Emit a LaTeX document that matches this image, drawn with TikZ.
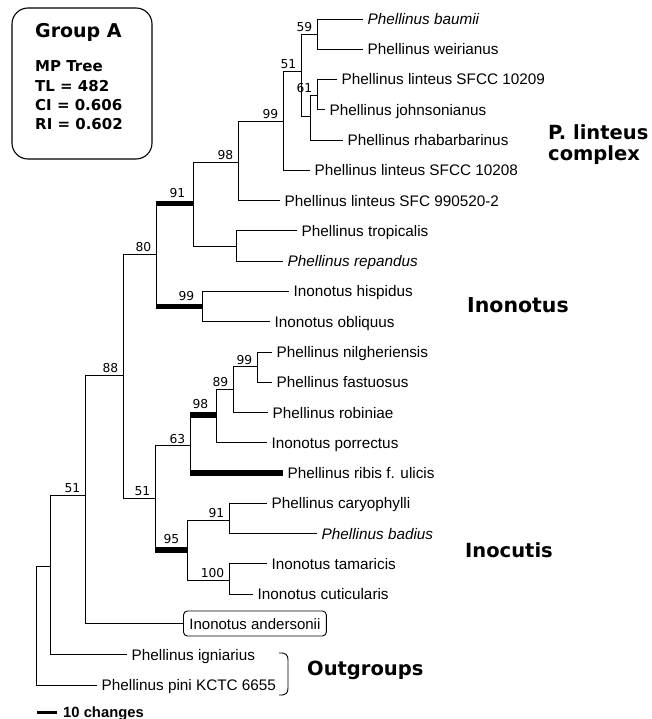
\documentclass[tikz,border=0pt]{standalone}
\usepackage{fontspec}
\setmainfont{Liberation Sans}
\newfontfamily\vfont{DejaVu Sans}
\begin{document}
\begin{tikzpicture}[x=1pt,y=-1pt,
  branch/.style={line width=0.9pt},
  thickbar/.style={line width=5.5pt},
  taxon/.style={anchor=west, inner xsep=4.5pt, inner ysep=0pt, text height=11pt, text depth=0pt, font=\fontsize{15.3}{15.3}\selectfont},
  boot/.style={anchor=base east, inner sep=0pt, xshift=-4.5pt, yshift=2.5pt, font=\vfont\fontsize{12.3}{12.3}\selectfont},
  bootthick/.style={boot, xshift=-3pt, yshift=4pt},
  grouplabel/.style={anchor=base west, inner sep=0pt, font=\vfont\bfseries\fontsize{19.5}{21}\selectfont},
  boxtext/.style={anchor=base west, inner sep=0pt, font=\vfont\bfseries\fontsize{15}{15}\selectfont},
  gbox/.style={draw, rounded corners=16pt, line width=1.1pt, minimum width=140pt, minimum height=151pt, inner sep=0pt},
]
\useasboundingbox (0,0) rectangle (651,719);

% ---------- Group A box ----------
\node[gbox] (box) at (82,83.5) {};
\node[boxtext, font=\vfont\bfseries\fontsize{19}{19}\selectfont] (gA) at (35,38) {Group A};
\node[boxtext] (mp) at (35,72) {MP Tree};
\node[boxtext] (tl) at (35,92) {TL = 482};
\node[boxtext] (ci) at (35,111) {CI = 0.606};
\node[boxtext] (ri) at (35,130) {RI = 0.602};

% ---------- internal nodes ----------
\coordinate (root) at (36,566);
\coordinate (nX)   at (50,566);
\coordinate (n51c) at (85,495);
\coordinate (n88)  at (123,375);
\coordinate (n80)  at (156,254);
\coordinate (n91a) at (193,203.5);
\coordinate (n98a) at (238,162);
\coordinate (n99a) at (283,121);
\coordinate (n51a) at (301,71);
\coordinate (n59)  at (317,34);
\coordinate (nU1)  at (310,116.5);
\coordinate (n61)  at (317,95);
\coordinate (nTR)  at (236,246);
\coordinate (n99b) at (202,306.5);
\coordinate (n51b) at (155,498);
\coordinate (n63)  at (190,445.5);
\coordinate (n98b) at (216,415);
\coordinate (n89)  at (233,389);
\coordinate (n99c) at (257,366.5);
\coordinate (n95)  at (187,550);
\coordinate (n91b) at (229,520);
\coordinate (n100) at (229,580);

% ---------- leaves ----------
\node[taxon] (baumii) at (363,19)    {\itshape Phellinus baumii};
\node[taxon] (weir)   at (363,49.3)  {Phellinus weirianus};
\node[taxon] (l10209) at (337,79.5)  {Phellinus linteus SFCC 10209};
\node[taxon] (john)   at (325,109.8) {Phellinus johnsonianus};
\node[taxon] (rhab)   at (343,140.1) {Phellinus rhabarbarinus};
\node[taxon] (l10208) at (310,170.4) {Phellinus linteus SFCC 10208};
\node[taxon] (l9905)  at (280,200.6) {Phellinus linteus SFC 990520-2};
\node[taxon] (trop)   at (297,230.9) {Phellinus tropicalis};
\node[taxon] (rep)    at (283,261.2) {\itshape Phellinus repandus};
\node[taxon] (hisp)   at (289,291.4) {Inonotus hispidus};
\node[taxon] (obl)    at (270,321.7) {Inonotus obliquus};
\node[taxon] (nilg)   at (272,352)   {Phellinus nilgheriensis};
\node[taxon] (fast)   at (272,382.2) {Phellinus fastuosus};
\node[taxon] (robi)   at (268,412.5) {Phellinus robiniae};
\node[taxon] (porr)   at (267,442.8) {Inonotus porrectus};
\node[taxon] (ribis)  at (283,473)   {Phellinus ribis f. ulicis};
\node[taxon] (cary)   at (267,503.3) {Phellinus caryophylli};
\node[taxon] (bad)    at (317,533.6) {\itshape Phellinus badius};
\node[taxon] (tama)   at (267,563.9) {Inonotus tamaricis};
\node[taxon] (cuti)   at (253,594.1) {Inonotus cuticularis};
\node[taxon, draw, rounded corners=4pt, line width=0.9pt, inner xsep=6pt, minimum height=25pt, font=\fontsize{15}{15}\selectfont] (ander) at (183,623.5) {Inonotus andersonii};
\node[taxon] (ign)    at (127,654.7) {Phellinus igniarius};
\node[taxon] (pini)   at (97,685)    {Phellinus pini KCTC 6655};

% ---------- branches ----------
\draw[branch] (root) |- (nX);
\draw[branch] (root) |- (pini.west);
\draw[branch] (nX) |- (n51c);
\draw[branch] (nX) |- (ign.west);
\draw[branch] (n51c) |- (n88);
\draw[branch] (n51c) |- (ander.west);
\draw[branch] (n88) |- (n80);
\draw[branch] (n88) |- (n51b);
\draw[branch] (n80) |- (n91a);
\draw[branch] (n80) |- (n99b);
\draw[branch] (n91a) |- (n98a);
\draw[branch] (n91a) |- (nTR);
\draw[branch] (n98a) |- (n99a);
\draw[branch] (n98a) |- (l9905.west);
\draw[branch] (n99a) |- (n51a);
\draw[branch] (n99a) |- (l10208.west);
\draw[branch] (n51a) |- (n59);
\draw[branch] (n51a) |- (nU1);
\draw[branch] (n59) |- (baumii.west);
\draw[branch] (n59) |- (weir.west);
\draw[branch] (nU1) |- (n61);
\draw[branch] (nU1) |- (rhab.west);
\draw[branch] (n61) |- (l10209.west);
\draw[branch] (n61) |- (john.west);
\draw[branch] (nTR) |- (trop.west);
\draw[branch] (nTR) |- (rep.west);
\draw[branch] (n99b) |- (hisp.west);
\draw[branch] (n99b) |- (obl.west);
\draw[branch] (n51b) |- (n63);
\draw[branch] (n51b) |- (n95);
\draw[branch] (n63) |- (n98b);
\draw[branch] (n63) |- (ribis.west);
\draw[branch] (n98b) |- (n89);
\draw[branch] (n98b) |- (porr.west);
\draw[branch] (n89) |- (n99c);
\draw[branch] (n89) |- (robi.west);
\draw[branch] (n99c) |- (nilg.west);
\draw[branch] (n99c) |- (fast.west);
\draw[branch] (n95) |- (n91b);
\draw[branch] (n95) |- (n100);
\draw[branch] (n91b) |- (cary.west);
\draw[branch] (n91b) |- (bad.west);
\draw[branch] (n100) |- (tama.west);
\draw[branch] (n100) |- (cuti.west);

% thick branches
\draw[thickbar] (n80 |- n91a) -- (n91a);
\draw[thickbar] (n80 |- n99b) -- (n99b);
\draw[thickbar] (n63 |- n98b) -- (n98b);
\draw[thickbar] (n51b |- n95) -- (n95);
\draw[thickbar] (n63 |- ribis.west) -- (ribis.west);

% ---------- bootstrap values ----------
\node[boot] (b59)  at (n59)  {59};
\node[boot] (b61)  at (n61)  {61};
\node[boot] (b51a) at (n51a) {51};
\node[boot] (b99a) at (n99a) {99};
\node[boot] (b98a) at (n98a) {98};
\node[bootthick] (b91a) at (n91a) {91};
\node[boot] (b80)  at (n80)  {80};
\node[bootthick] (b99b) at (n99b) {99};
\node[boot] (b88)  at (n88)  {88};
\node[boot] (b99c) at (n99c) {99};
\node[boot] (b89)  at (n89)  {89};
\node[bootthick] (b98b) at (n98b) {98};
\node[boot] (b63)  at (n63)  {63};
\node[boot] (b51b) at (n51b) {51};
\node[boot] (b91b) at (n91b) {91};
\node[bootthick] (b95)  at (n95)  {95};
\node[boot] (b100) at (n100) {100};
\node[boot] (b51c) at (n51c) {51};

% ---------- group labels ----------
\node[grouplabel] (gP)  at (548,140) {P. linteus};
\node[grouplabel] (gP2) at (548,161) {complex};
\node[grouplabel, font=\vfont\bfseries\fontsize{20.5}{21}\selectfont] (gIn) at (467,312) {Inonotus};
\node[grouplabel] (gIc) at (465,557) {Inocutis};
\node[grouplabel] (gOut) at (307,675) {Outgroups};

% outgroup bracket
\coordinate (brT) at (279,653);
\coordinate (brB) at (279,695);
\draw[line width=0.9pt] (brT) .. controls (286,652.5) and (288,655) .. (288,660) -- (288,688) .. controls (288,693) and (286,695.5) .. (brB);

% ---------- scale bar ----------
\coordinate (sbA) at (37,712);
\coordinate (sbB) at (57,712);
\draw[line width=3pt] (sbA) -- (sbB);
\node[anchor=base west, inner sep=0pt, font=\bfseries\fontsize{14.8}{14.8}\selectfont] (sbT) at (63,717) {10 changes};
\end{tikzpicture}
\end{document}
